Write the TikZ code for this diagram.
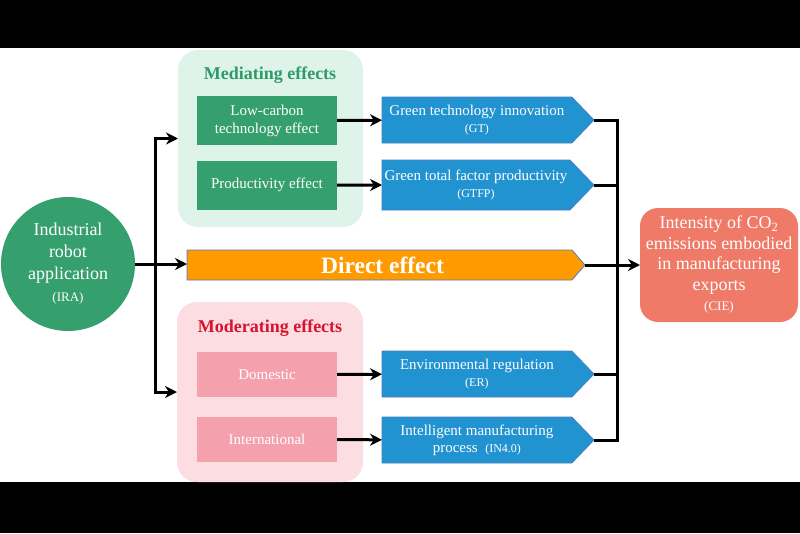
\documentclass[tikz,border=0pt]{standalone}
\usepackage{fontspec}
\setmainfont{Liberation Serif}
\usetikzlibrary{shapes.symbols}
\usetikzlibrary{arrows.meta}

\definecolor{robotgreen}{HTML}{35A06E}
\definecolor{medpale}{HTML}{DEF3EA}
\definecolor{medtext}{HTML}{2E9B68}
\definecolor{modpale}{HTML}{FCDDE2}
\definecolor{modbox}{HTML}{F4A1AD}
\definecolor{modtext}{HTML}{D7132E}
\definecolor{chanblue}{HTML}{2293D1}
\definecolor{edgeblue}{HTML}{4A7EC0}
\definecolor{directorange}{HTML}{FF9A00}
\definecolor{ciesalmon}{HTML}{EF7A68}

\newcommand{\smalltagfont}{\fontsize{12}{14}\selectfont}

\tikzset{
    panel/.style = {rounded corners = 20pt, inner sep = 0pt, outer sep = 0pt},
    headtext/.style = {font = \fontsize{18}{21}\selectfont\bfseries},
    effectbox/.style = {minimum width = 140pt, minimum height = 47pt, inner sep = 2pt,
        outer sep = 0pt, text = white, align = center, font = \fontsize{15}{18}\selectfont},
    channel/.style = {signal, signal to = east, signal from = nowhere, signal pointer angle = 92,
        fill = chanblue, draw = edgeblue, line width = 0.8pt, minimum width = 212pt,
        minimum height = 46pt, inner sep = 1pt, outer sep = 0pt, anchor = west,
        text = white, align = center, font = \fontsize{15}{17}\selectfont},
    link/.style = {line width = 3pt, ->, >={Stealth[length = 12pt, width = 12pt]}},
    joint/.style = {line width = 3pt}
}

\begin{document}
\begin{tikzpicture}[x = 1pt, y = -1pt]
    \useasboundingbox (0,0) rectangle (800,533);
    \fill[black] (0,0) rectangle (800,48);
    \fill[black] (0,482) rectangle (800,533);

    % source and outcome
    \node[circle, fill = robotgreen, minimum size = 134pt, inner sep = 0pt, outer sep = 0pt,
        text = white, align = center, font = \fontsize{18}{22}\selectfont] (ira) at (68,264)
        {Industrial\\robot\\application\\{\fontsize{13}{15}\selectfont(IRA)}};
    \node[fill = ciesalmon, rounded corners = 18pt, minimum width = 158pt, minimum height = 114pt,
        inner sep = 0pt, outer sep = 0pt, text = white, align = center,
        font = \fontsize{18}{20.5}\selectfont] (cie) at (719,265)
        {Intensity of CO\textsubscript{2}\\emissions embodied\\in manufacturing\\exports\\
        {\fontsize{13}{15}\selectfont(CIE)}};

    % mediating panel
    \node[panel, fill = medpale, minimum width = 185pt, minimum height = 177pt] (medbg) at (270.5,138.5) {};
    \node[headtext, text = medtext] (medhead) at (270,75) {Mediating effects};
    \node[effectbox, fill = robotgreen, minimum height = 49pt] (lowc) at (267,120.5) {Low-carbon\\technology effect};
    \node[effectbox, fill = robotgreen, minimum height = 49pt] (prod) at (267,185) {Productivity effect};

    % moderating panel
    \node[panel, fill = modpale, minimum width = 186pt, minimum height = 180pt] (modbg) at (270,392) {};
    \node[headtext, text = modtext] (modhead) at (270,328) {Moderating effects};
    \node[effectbox, fill = modbox, minimum height = 45pt] (dom) at (267,374.5) {Domestic};
    \node[effectbox, fill = modbox, minimum height = 45pt] (intl) at (267,439.5) {International};

    % channels
    \node[channel] (gt) at (382,120) {Green technology innovation\\{\smalltagfont(GT)}};
    \node[channel, minimum height = 50pt] (gtfp) at (382,185) {Green total factor productivity\\{\smalltagfont(GTFP)}};
    \node[channel] (er) at (382,374) {Environmental regulation\\{\smalltagfont(ER)}};
    \node[channel] (inf) at (382,440) {Intelligent manufacturing\\process\enspace{\smalltagfont(IN4.0)}};
    \node[signal, signal to = east, signal from = nowhere, signal pointer angle = 98,
        fill = directorange, draw = edgeblue, line width = 0.8pt, minimum width = 398pt,
        minimum height = 30pt, inner sep = 0pt, outer sep = 0pt, anchor = west, text = white,
        font = \fontsize{23.5}{26}\selectfont\bfseries] (direct) at (187,265) {\hspace{6pt}Direct effect};

    % connectors
    \coordinate (split) at (155,264);
    \coordinate (merge) at (617,265);
    \draw[link] (ira.east |- split) -- (direct.west |- split);
    \draw[link] (split) |- (medbg.west);
    \draw[link] (split) |- (modbg.west);
    \draw[link] (lowc) -- (gt);
    \draw[link] (prod) -- (gtfp);
    \draw[link] (dom) -- (er);
    \draw[link] (intl) -- (inf);
    \draw[joint] (gt.east) -| (merge);
    \draw[joint] (gtfp.east) -| (merge);
    \draw[joint] (er.east) -| (merge);
    \draw[joint] (inf.east) -| (merge);
    \draw[link] (direct.east) -- (cie.west);
\end{tikzpicture}
\end{document}
